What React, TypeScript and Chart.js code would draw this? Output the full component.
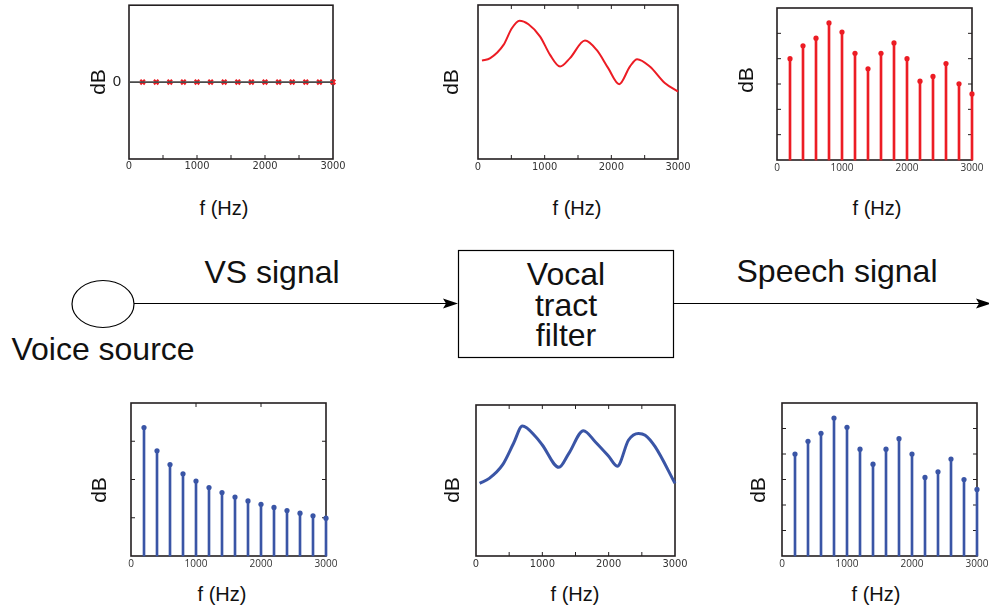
import React, { useEffect, useRef } from "react";
import { Chart, registerables } from "chart.js";
Chart.register(...registerables);

// ---------- data ----------
const harmonicHz = [200, 400, 600, 800, 1000, 1200, 1400, 1600, 1800, 2000, 2200, 2400, 2600, 2800, 3000];
const flatSourceDb = [0, 0, 0, 0, 0, 0, 0, 0, 0, 0, 0, 0, 0, 0, 0];
const flatRefHz = [0, 3000];
const flatRefDb = [0, 0];

const filterTopHz = [60, 184, 383, 508, 622, 757, 932, 1081, 1231, 1380, 1605, 1780, 1953, 2118, 2278, 2387, 2577, 2802, 3000];
const filterTopDb = [63.9, 65.5, 74.1, 84.9, 89.8, 87.5, 79.5, 67.6, 60.0, 65.5, 76.9, 70.8, 59, 48.6, 60, 64.8, 60, 49.3, 43.8];

const speechTopDb = [4.0, 4.51, 4.81, 5.41, 5.05, 4.21, 3.6, 4.21, 4.62, 4.0, 3.11, 3.3, 3.81, 3.01, 2.61];

const sourceDb = [3.36, 2.75, 2.39, 2.15, 1.96, 1.79, 1.66, 1.54, 1.44, 1.35, 1.27, 1.19, 1.12, 1.05, 0.99];

const filterBotHz = [55, 200, 400, 565, 700, 900, 1000, 1250, 1400, 1620, 1800, 2000, 2130, 2300, 2450, 2550, 2700, 3000];
const filterBotDb = [48.1, 51.4, 60.3, 74.5, 86.1, 79, 73.5, 58.7, 68, 83, 75.5, 66, 59.5, 76.8, 81.2, 80, 72.4, 48.1];

const speechBotDb = [4.0, 4.5, 4.81, 5.41, 5.05, 4.19, 3.6, 4.19, 4.6, 4.0, 3.08, 3.3, 3.8, 3.0, 2.61];

const halfKiloTicks = [500, 1000, 1500, 2000, 2500];
const kiloTicks = [1000, 2000];
const levelTicks6 = [1, 2, 3, 4, 5];
const levelTicks4 = [1, 2, 3];

// ---------- style ----------
const RED = "#ec1c24";
const BLUE = "#3a55a6";
const FRAME = "#231f20";
const AXW = 40, PT = 6, PR = 22, AXH = 24;

const narrowFont = { family: "'Liberation Sans Narrow', 'DejaVu Sans Condensed', 'Roboto Condensed', sans-serif", size: 11 };
const normalFont = { family: "'Open Sans', 'Liberation Sans', sans-serif", size: 10 };
const labelFamily = "'Liberation Sans', Arial, sans-serif";

const pts = (xs: number[], ys: number[]) => xs.map((x, i) => ({ x, y: ys[i] }));

const framePlugin = {
  id: "frame",
  beforeDatasetsDraw(chart: any, _a: any, o: any) {
    const { ctx, chartArea } = chart;
    const { left, right, top, bottom } = chartArea;
    const xs = chart.scales.x, ys = chart.scales.y;
    const len = 4;
    ctx.save();
    ctx.strokeStyle = FRAME;
    ctx.lineWidth = 1;
    const line = (x1: number, y1: number, x2: number, y2: number) => {
      ctx.beginPath(); ctx.moveTo(x1, y1); ctx.lineTo(x2, y2); ctx.stroke();
    };
    (o.bottom || []).forEach((v: number) => { const p = xs.getPixelForValue(v); line(p, bottom, p, bottom - len); });
    (o.top || []).forEach((v: number) => { const p = xs.getPixelForValue(v); line(p, top, p, top + len); });
    (o.left || []).forEach((v: number) => { const p = ys.getPixelForValue(v); line(left, p, left + len, p); });
    (o.right || []).forEach((v: number) => { const p = ys.getPixelForValue(v); line(right, p, right - len, p); });
    ctx.lineWidth = 1.6;
    ctx.strokeRect(left, top, right - left, bottom - top);
    ctx.restore();
  },
};

type Panel = {
  l: number; t: number; r: number; b: number;
  yMin: number; yMax: number;
  datasets: any[];
  xFont: any; xPad: number;
  yZero?: boolean;
  frame: any;
};

const stemSets = (vals: number[], color: string) => [
  {
    type: "bar", data: pts(harmonicHz, vals), backgroundColor: color, borderWidth: 0,
    barThickness: 2, grouped: false, clip: false,
  },
  {
    type: "line", data: pts(harmonicHz, vals), showLine: false, pointRadius: 2.6,
    pointBackgroundColor: color, pointBorderWidth: 0, clip: false,
  },
];

const panels: Panel[] = [
  {
    l: 129, t: 5, r: 333, b: 159, yMin: -1, yMax: 1, xFont: narrowFont, xPad: 1, yZero: true,
    frame: { bottom: halfKiloTicks },
    datasets: [
      { type: "line", data: pts(flatRefHz, flatRefDb), borderColor: "#4a4a4a", borderWidth: 1.6, pointRadius: 0, clip: false },
      {
        type: "line", data: pts(harmonicHz, flatSourceDb), showLine: false, pointStyle: "crossRot",
        pointRadius: 3.2, pointBorderColor: RED, pointBorderWidth: 2.2, clip: false,
      },
    ],
  },
  {
    l: 478, t: 5, r: 678, b: 159, yMin: 0, yMax: 100, xFont: narrowFont, xPad: 2,
    frame: { bottom: halfKiloTicks, top: halfKiloTicks },
    datasets: [
      {
        type: "line", data: pts(filterTopHz, filterTopDb), borderColor: RED, borderWidth: 2,
        pointRadius: 0, cubicInterpolationMode: "monotone", clip: false,
      },
    ],
  },
  {
    l: 777, t: 8, r: 972, b: 160, yMin: 0, yMax: 6, xFont: normalFont, xPad: 2,
    frame: { left: levelTicks6, right: levelTicks6 },
    datasets: stemSets(speechTopDb, RED),
  },
  {
    l: 131, t: 403, r: 326, b: 556, yMin: 0, yMax: 4, xFont: normalFont, xPad: 2,
    frame: { left: levelTicks4, right: levelTicks4, top: kiloTicks },
    datasets: stemSets(sourceDb, BLUE),
  },
  {
    l: 476, t: 405, r: 675, b: 556, yMin: 0, yMax: 100, xFont: narrowFont, xPad: 1.5,
    frame: { bottom: halfKiloTicks, top: halfKiloTicks },
    datasets: [
      {
        type: "line", data: pts(filterBotHz, filterBotDb), borderColor: BLUE, borderWidth: 3,
        pointRadius: 0, cubicInterpolationMode: "monotone", clip: false,
      },
    ],
  },
  {
    l: 782, t: 403, r: 977, b: 556, yMin: 0, yMax: 6, xFont: normalFont, xPad: 2,
    frame: { left: levelTicks6, right: levelTicks6 },
    datasets: stemSets(speechBotDb, BLUE),
  },
];

const dbLabels = [
  [97, 82], [450, 82], [745, 80],
  [98, 490], [451, 490], [757, 490],
];
const hzLabels = [
  [224, 208], [577, 208], [877, 208],
  [222, 594], [575, 594], [876, 594],
];

function makeConfig(p: Panel): any {
  return {
    type: "line",
    data: { datasets: p.datasets },
    options: {
      animation: false,
      responsive: false,
      maintainAspectRatio: false,
      events: [],
      layout: { padding: { left: 0, right: PR, top: PT, bottom: 0 } },
      plugins: { legend: { display: false }, tooltip: { enabled: false }, frame: p.frame },
      scales: {
        x: {
          type: "linear", min: 0, max: 3000, position: "bottom", offset: false,
          grid: { display: false, drawTicks: false, offset: false }, border: { display: false },
          ticks: {
            stepSize: 1000, autoSkip: false, maxRotation: 0, padding: p.xPad, color: "#333",
            font: p.xFont, callback: (v: number) => String(v),
          },
          afterFit: (s: any) => { s.height = AXH; s.paddingLeft = 0; s.paddingRight = 0; },
        },
        y: {
          type: "linear", min: p.yMin, max: p.yMax,
          grid: { display: false, drawTicks: false }, border: { display: false },
          ticks: {
            display: !!p.yZero, stepSize: 1, padding: 8, color: "#222",
            font: { family: labelFamily, size: 15 },
            callback: (v: number) => (v === 0 ? "0" : ""),
          },
          afterFit: (s: any) => { s.width = AXW; s.paddingTop = 0; s.paddingBottom = 0; },
        },
      },
    },
    plugins: [framePlugin],
  };
}

export default function App() {
  const refs = useRef<(HTMLCanvasElement | null)[]>([]);
  useEffect(() => {
    const charts = panels.map((p, i) => new Chart(refs.current[i] as HTMLCanvasElement, makeConfig(p)));
    return () => charts.forEach((c) => c.destroy());
  }, []);

  const textStyle = (size: number): React.CSSProperties => ({
    position: "absolute", fontFamily: labelFamily, fontSize: size, lineHeight: 1,
    whiteSpace: "nowrap", color: "#111",
  });

  return (
    <div style={{ position: "absolute", left: 0, top: 0, width: 989, height: 613, overflow: "hidden", background: "#fff" }}>
      <svg width={989} height={613} style={{ position: "absolute", left: 0, top: 0 }}>
        <ellipse cx={103} cy={304} rx={31} ry={23.5} fill="none" stroke="#000" strokeWidth={1.2} />
        <line x1={134} y1={303.5} x2={446} y2={303.5} stroke="#000" strokeWidth={1.2} />
        <polygon points="458,303.5 443,298.5 446,303.5 443,308.5" fill="#000" />
        <rect x={458.5} y={250.5} width={215} height={107} fill="none" stroke="#000" strokeWidth={1.2} />
        <line x1={673} y1={303.5} x2={980} y2={303.5} stroke="#000" strokeWidth={1.2} />
        <polygon points="991,303.5 976,298.5 979,303.5 976,308.5" fill="#000" />
        <g fontFamily={labelFamily} fontSize={32} fill="#111" textAnchor="middle">
          <text x={272} y={283}>VS signal</text>
          <text x={837} y={282}>Speech signal</text>
          <text x={103} y={360}>Voice source</text>
          <text x={566} y={285}>Vocal</text>
          <text x={566} y={316}>tract</text>
          <text x={566} y={346}>filter</text>
        </g>
      </svg>
      {panels.map((p, i) => {
        const w = p.r - p.l + AXW + PR;
        const h = p.b - p.t + PT + AXH;
        return (
          <canvas
            key={i}
            ref={(el) => { refs.current[i] = el; }}
            width={w}
            height={h}
            style={{ position: "absolute", left: p.l - AXW, top: p.t - PT, width: w, height: h }}
          />
        );
      })}
      {dbLabels.map(([x, y], i) => (
        <div key={"db" + i} style={{ ...textStyle(21), left: x, top: y, transform: "translate(-50%,-50%) rotate(-90deg)" }}>dB</div>
      ))}
      {hzLabels.map(([x, y], i) => (
        <div key={"hz" + i} style={{ ...textStyle(20), left: x, top: y, transform: "translate(-50%,-50%)" }}>f (Hz)</div>
      ))}
    </div>
  );
}
